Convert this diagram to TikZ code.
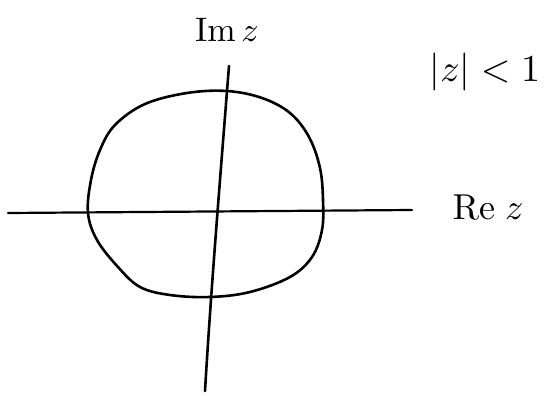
\documentclass[tikz,border=0pt]{standalone}
\usepackage{amsmath}
\usepackage{tikz}
\usetikzlibrary{calc}

\tikzset{
  pen/.style={line width=2.6pt, line cap=round, line join=round},
  lbl/.style={scale=3.4},
}

\begin{document}
\begin{tikzpicture}[x=1pt, y=-1pt]
\useasboundingbox (0,0) rectangle (552,396);
% axes
\coordinate (reL) at (8,213);
\coordinate (reR) at (412,210);
\coordinate (imT) at (229,66);
\coordinate (imB) at (205,391);
\draw[pen, line width=2.2pt] (reL) -- (reR);
\draw[pen] (imB) .. controls (211,290) and (220,180) .. (imT);
% unit circle
\draw[pen] plot[smooth cycle, tension=0.6] coordinates {
  (187,93) (227,91) (262,98) (290,113) (309,137) (320,168) (323,200)
  (322,230) (312,257) (290,277) (250,292) (210,297) (170,295) (140,287)
  (118,267) (97,240) (88,213) (91,180) (100,150) (115,125) (145,104)};
% labels
\node[lbl] (im) at (227,30) {$\mathrm{Im}\,z$};
\node[lbl, scale=3.6/3.4] (re) at (488,207) {$\mathrm{Re}\;z$};
\node[lbl, scale=3.8/3.4] (cond) at (485,72) {$|z|<1$};
\end{tikzpicture}
\end{document}
